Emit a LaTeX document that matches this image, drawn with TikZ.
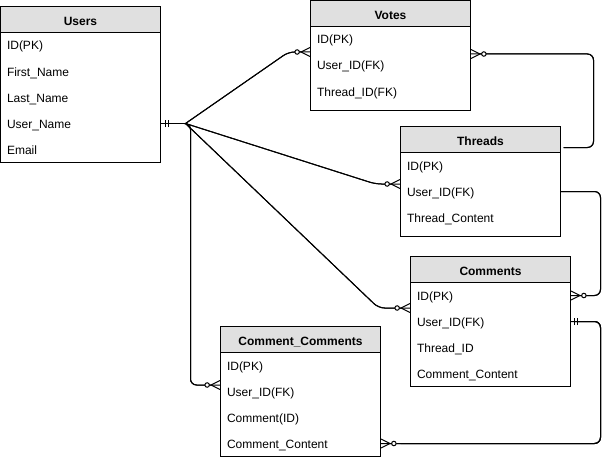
\documentclass[tikz,border=0pt]{standalone}
\usepackage{fontspec}
\setmainfont{Liberation Sans}
\usetikzlibrary{positioning,arrows.meta}
\definecolor{headgray}{HTML}{E0E0E0}

\begin{document}
\begin{tikzpicture}[x=1pt, y=-1pt, line width=1pt,
    font=\fontsize{12}{14}\selectfont,
    tablehead/.style={draw, fill=headgray, minimum width=160, minimum height=26, inner sep=0, outer sep=0,
      text height=11.5pt, text depth=0pt, font=\fontsize{12}{14}\selectfont\bfseries},
    tablebox/.style={draw, fill=white, minimum width=160, inner sep=0, outer sep=0},
    field/.style={anchor=west, inner sep=0, minimum height=26, text height=9pt, text depth=0pt},
    link/.style={draw, rounded corners=6pt, preaction={draw, -, shorten <=0pt, shorten >=0pt}},
    zmany/.style={link, -{Circle[fill=white, length=5.5pt, width=5.5pt] Straight Barb[reversed, length=9pt, width=9pt]}},
    onlyone/.style={link, shorten <=4pt, {Bar[width=7pt]}-,
      postaction={draw, shorten <=7.5pt, {Bar[width=7pt]}-}},
    onezmany/.style={link, shorten <=3pt,
      {Bar[width=7pt]}-{Circle[fill=white, length=5.5pt, width=5.5pt] Straight Barb[reversed, length=9pt, width=9pt]},
      postaction={draw, shorten <=6.5pt, shorten >=20pt, {Bar[width=7pt]}-}}]
  \useasboundingbox (0,0) rectangle (610,460);

  % tables
  \node[tablehead] (users) at (80.5,19.5) {Users};
  \node[tablebox, minimum height=130, below=0pt of users] (usersbox) {};
  \foreach \f [count=\i] in {ID(PK),First\_Name,Last\_Name,User\_Name,Email}
    \path (users.west) ++(6,26*\i) node[field] (u\i) {\f};

  \node[tablehead] (votes) at (390.5,13.5) {Votes};
  \node[tablebox, minimum height=84, below=0pt of votes] (votesbox) {};
  \foreach \f [count=\i] in {ID(PK),User\_ID(FK),Thread\_ID(FK)}
    \path (votes.west) ++(6,26*\i) node[field] (v\i) {\f};

  \node[tablehead] (threads) at (480.5,139.5) {Threads};
  \node[tablebox, minimum height=84, below=0pt of threads] (threadsbox) {};
  \foreach \f [count=\i] in {ID(PK),User\_ID(FK),Thread\_Content}
    \path (threads.west) ++(6,26*\i) node[field] (t\i) {\f};

  \node[tablehead] (comments) at (490.5,269.5) {Comments};
  \node[tablebox, minimum height=104, below=0pt of comments] (commentsbox) {};
  \foreach \f [count=\i] in {ID(PK),User\_ID(FK),Thread\_ID,Comment\_Content}
    \path (comments.west) ++(6,26*\i) node[field] (m\i) {\f};

  \node[tablehead] (cc) at (300.5,339.5) {Comment\_Comments};
  \node[tablebox, minimum height=104, below=0pt of cc] (ccbox) {};
  \foreach \f [count=\i] in {ID(PK),User\_ID(FK),Comment(ID),Comment\_Content}
    \path (cc.west) ++(6,26*\i) node[field] (k\i) {\f};

  % relations
  \path (usersbox.east |- u4) ++(25,0) coordinate (hub);
  \draw[onlyone] (usersbox.east |- u4) -- (hub);
  \draw[zmany] (hub) -- ([xshift=-22pt]votesbox.west |- v2.north) -- (votesbox.west |- v2.north);
  \draw[zmany] (hub) -- ([xshift=-25pt, yshift=-6pt]threadsbox.west |- t2.north) -- ([yshift=-6pt]threadsbox.west |- t2.north);
  \draw[zmany] (hub) -- ([xshift=-32pt]commentsbox.west |- m2.north) -- (commentsbox.west |- m2.north);
  \draw[zmany] (hub) -- ++(5,0) |- ([yshift=-7pt]ccbox.west |- k2.north);
  \draw[zmany] ([shift={(3,8)}]threads.east) -- ++(30,0) |- ([yshift=-2pt]votesbox.east |- v2.north);
  \draw[zmany] (threadsbox.east |- t2) -- ++(40,0) |- (commentsbox.east |- m1);
  \draw[onezmany] (commentsbox.east |- m2) -- ++(30,0) |- (ccbox.east |- k4);
\end{tikzpicture}
\end{document}
